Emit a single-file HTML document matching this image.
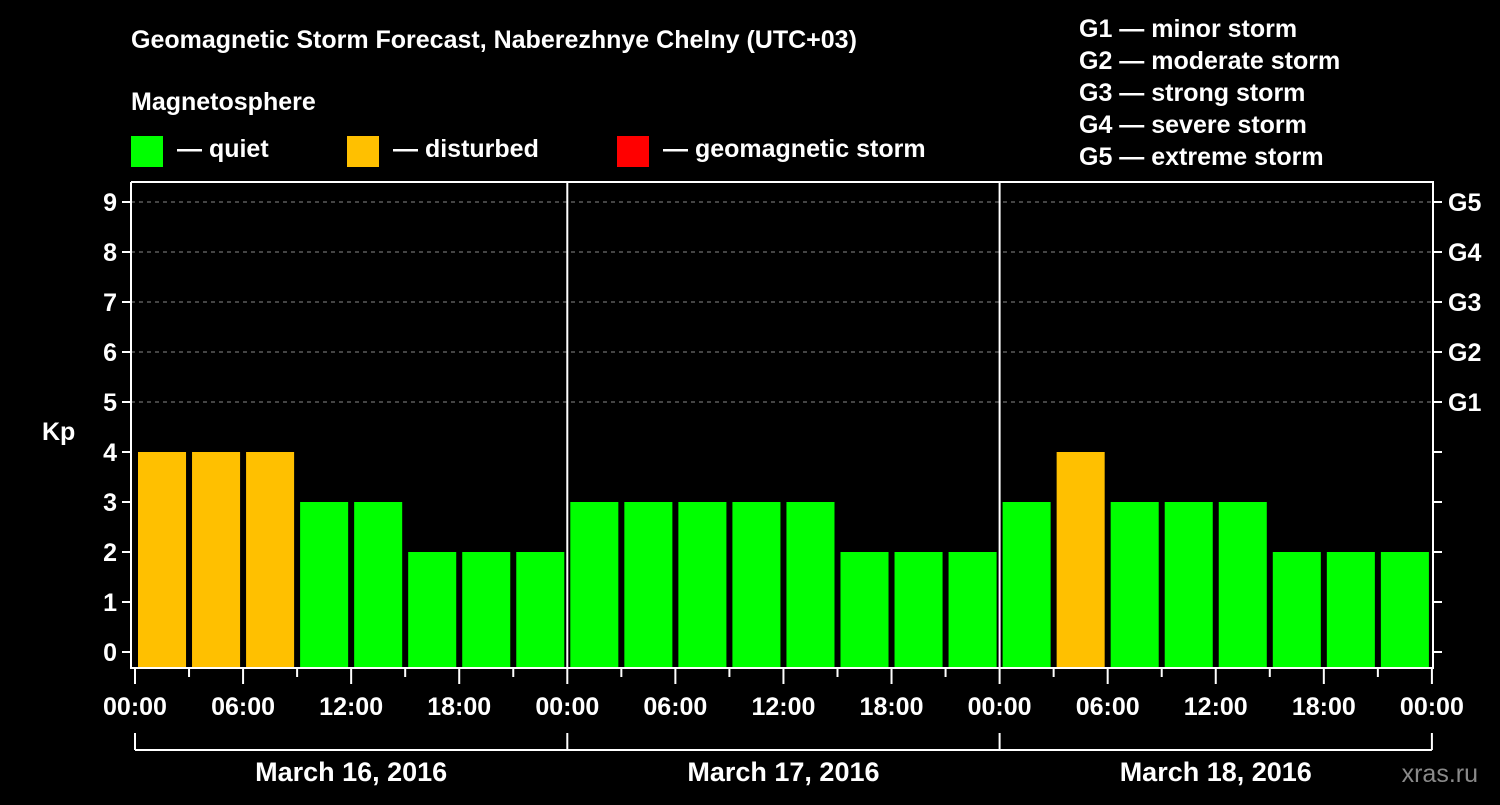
<!DOCTYPE html>
<html><head><meta charset="utf-8"><style>
body{margin:0;background:#000;}
svg text{font-family:"Liberation Sans",Arial,sans-serif;font-weight:bold;fill:#fff;}
</style></head><body>
<svg width="1500" height="800" xmlns="http://www.w3.org/2000/svg">
<rect x="0" y="0" width="1500" height="800" fill="#000"/>
<text x="131" y="48" font-size="25">Geomagnetic Storm Forecast, Naberezhnye Chelny (UTC+03)</text>
<text x="131" y="110" font-size="25">Magnetosphere</text>
<rect x="131" y="136" width="32" height="31" fill="#00ff00"/>
<text x="177" y="157" font-size="25">— quiet</text>
<rect x="347" y="136" width="32" height="31" fill="#ffc000"/>
<text x="393" y="157" font-size="25">— disturbed</text>
<rect x="617" y="136" width="32" height="31" fill="#ff0000"/>
<text x="663" y="157" font-size="25">— geomagnetic storm</text>
<g font-size="25">
<text x="1079" y="37">G1 — minor storm</text>
<text x="1079" y="69">G2 — moderate storm</text>
<text x="1079" y="101">G3 — strong storm</text>
<text x="1079" y="133">G4 — severe storm</text>
<text x="1079" y="165">G5 — extreme storm</text>
</g>
<text x="42" y="440" font-size="25">Kp</text>
<text x="1478" y="782" font-size="25" fill="#888" style="fill:#8a8a8a;font-weight:normal" text-anchor="end">xras.ru</text>
<g id="grid"></g><g id="bars"></g><g id="axes"></g>
</svg>
<script>
const days = ["March 16, 2016","March 17, 2016","March 18, 2016"];
const kp = [4,4,4,3,3,2,2,2, 3,3,3,3,3,2,2,2, 3,4,3,3,3,2,2,2];
const yTicks = [0,1,2,3,4,5,6,7,8,9];
const gLabels = ["G1","G2","G3","G4","G5"];
const xLabels = ["00:00","06:00","12:00","18:00"];
const NS="http://www.w3.org/2000/svg";
const X0=135, DAYW=432.3, SLOT=DAYW/8, Y0=652, UNIT=50, BOTTOM=668, TOP=182, LEFT=131, RIGHT=1433;
const x = i => X0 + i*SLOT;
const y = v => Y0 - v*UNIT;
function mk(tag,attrs,parent,txt){const e=document.createElementNS(NS,tag);for(const k in attrs)e.setAttribute(k,attrs[k]);if(txt!==undefined)e.textContent=txt;document.getElementById(parent).appendChild(e);return e;}
yTicks.forEach(v=>{
  if(v>=5){const g=mk('line',{x1:LEFT,x2:RIGHT,y1:y(v),y2:y(v),stroke:'#888','stroke-dasharray':'4,4','stroke-width':1},'grid');
  
  }
});
kp.forEach((v,i)=>{
  const c = v>=5?'#ff0000':(v>=4?'#ffc000':'#00ff00');
  const r=mk('rect',{x:x(i)+3,y:y(v),width:SLOT-6,height:BOTTOM-y(v),fill:c},'bars');
  
  
});
const ax=mk('path',{d:`M${LEFT},${TOP}V${BOTTOM}H${RIGHT}V${TOP}H${LEFT}`,stroke:'#fff','stroke-width':2,fill:'none'},'axes');


for(let d=1;d<days.length;d++){const l=mk('line',{x1:x(d*8),x2:x(d*8),y1:TOP,y2:BOTTOM,stroke:'#fff','stroke-width':2},'axes');

}
yTicks.forEach(v=>{
  mk('line',{x1:LEFT-9,x2:LEFT,y1:y(v),y2:y(v),stroke:'#fff','stroke-width':2},'axes');
  mk('line',{x1:RIGHT,x2:RIGHT+9,y1:y(v),y2:y(v),stroke:'#fff','stroke-width':2},'axes');
  const t=mk('text',{x:LEFT-14,y:y(v)+9,'font-size':25,'text-anchor':'end'},'axes',String(v));
  
  
});
gLabels.forEach((g,i)=>{const t=mk('text',{x:RIGHT+15,y:y(5+i)+9,'font-size':25},'axes',g);

});
for(let i=0;i<=kp.length;i++){
  const major=i%2===0;
  mk('line',{x1:x(i),x2:x(i),y1:BOTTOM,y2:BOTTOM+(major?16:9),stroke:'#fff','stroke-width':2},'axes');
  if(major){const t=mk('text',{x:x(i),y:715,'font-size':25,'text-anchor':'middle'},'axes',xLabels[(i/2)%4]);
  
  }
}
mk('line',{x1:x(0),x2:x(kp.length),y1:750,y2:750,stroke:'#fff','stroke-width':2},'axes');
for(let d=0;d<=days.length;d++) mk('line',{x1:x(d*8),x2:x(d*8),y1:733,y2:750,stroke:'#fff','stroke-width':2},'axes');
days.forEach((d,i)=>{const t=mk('text',{x:x(i*8+4),y:781,'font-size':27,'text-anchor':'middle'},'axes',d);

});
</script>
</body></html>
